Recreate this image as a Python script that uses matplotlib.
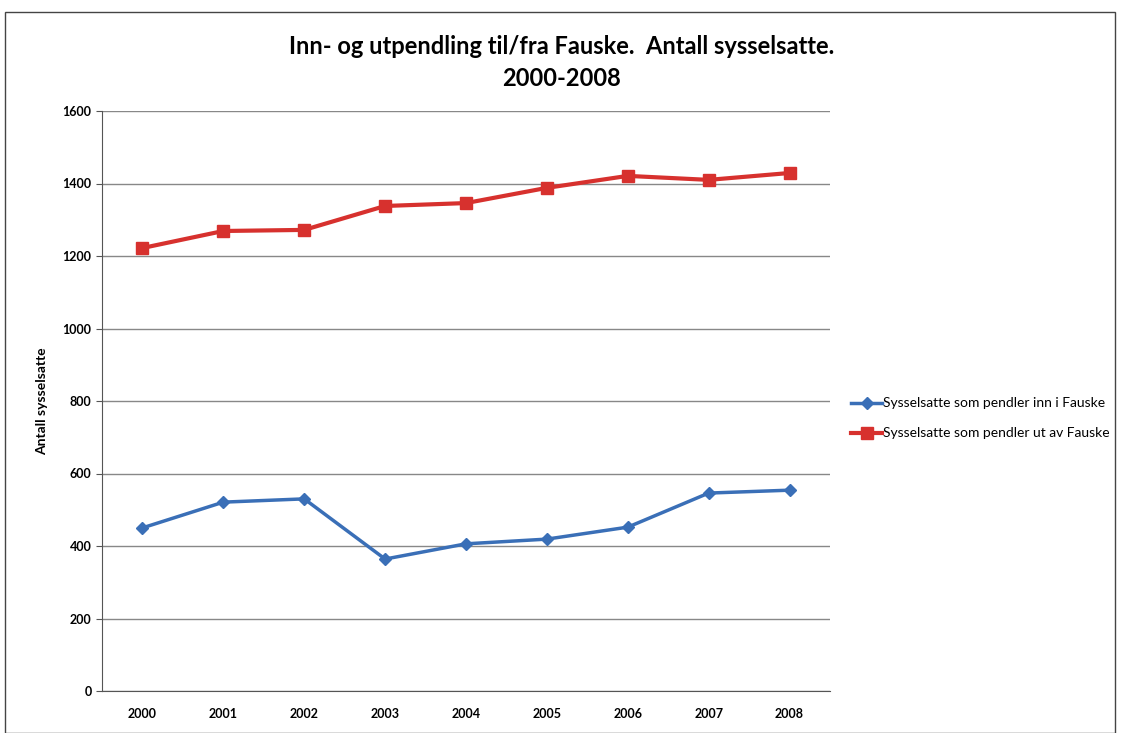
import matplotlib.pyplot as plt
from matplotlib.patches import Rectangle

years = ['2000', '2001', '2002', '2003', '2004', '2005', '2006', '2007', '2008']
inn = [450, 521, 530, 364, 406, 419, 452, 546, 554]
ut = [1222, 1269, 1272, 1338, 1346, 1388, 1421, 1410, 1429]
yticks = [0, 200, 400, 600, 800, 1000, 1200, 1400, 1600]

plt.rcParams['font.family'] = ['Lato', 'DejaVu Sans']

fig = plt.figure(figsize=(11.23, 7.33), dpi=100)
ax = fig.add_axes([102 / 1123, 1 - 691 / 733, 728 / 1123, 580 / 733])

x = list(range(len(years)))
ax.plot(x, inn, color='#3A6FB7', lw=2.5, marker='D', ms=6,
        label='Sysselsatte som pendler inn i Fauske')
ax.plot(x, ut, color='#D7312E', lw=3, marker='s', ms=8,
        label='Sysselsatte som pendler ut av Fauske')

ax.set_xlim(-0.5, len(years) - 0.5)
ax.set_ylim(0, 1600)
ax.set_yticks(yticks)
ax.set_xticks(x)
ax.set_xticklabels(years, fontsize=9, fontweight='bold')
ax.tick_params(axis='y', labelsize=9, length=4, color='#555555')
ax.tick_params(axis='x', length=0, pad=12)
for lab in ax.get_yticklabels():
    lab.set_fontweight('bold')
ax.grid(axis='y', color='#888888', lw=1)
ax.set_axisbelow(True)
for s in ['top', 'right']:
    ax.spines[s].set_visible(False)
ax.spines['left'].set_color('#555555')
ax.spines['bottom'].set_color('#555555')
ax.set_ylabel('Antall sysselsatte', fontsize=10, fontweight='bold', labelpad=10)

fig.text(0.5, 0.915, 'Inn- og utpendling til/fra Fauske.  Antall sysselsatte.\n2000-2008',
         ha='center', va='center', fontsize=17, fontweight='bold', linespacing=1.45)

ax.legend(loc='center left', bbox_to_anchor=(1.012, 0.47), frameon=False,
          fontsize=10, handlelength=2.2, handletextpad=0.1, labelspacing=1.3)

fig.patches.append(Rectangle((5 / 1123, 0), 1110 / 1123, 1 - 12 / 733,
                             transform=fig.transFigure, fill=False,
                             edgecolor='#444444', lw=1))

fig.savefig('out.png', dpi=100)
